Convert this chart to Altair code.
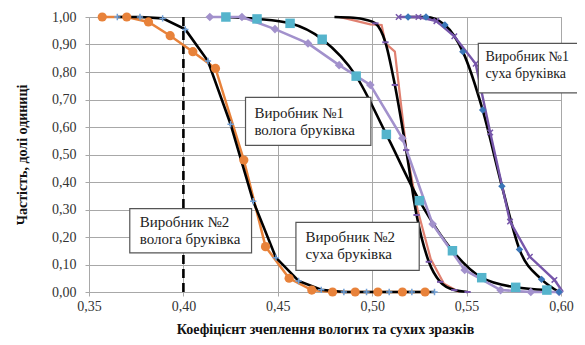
import altair as alt
import pandas as pd

# ---------------- data ----------------
# Виробник №2, волога бруківка: experiment (orange circles)
a_emp_x = [0.357, 0.370, 0.3815, 0.393, 0.405, 0.417, 0.432, 0.4435, 0.456, 0.468, 0.479, 0.491, 0.503, 0.516, 0.528]
a_emp_y = [1.00, 1.00, 0.982, 0.932, 0.874, 0.813, 0.48, 0.165, 0.05, 0.007, 0.0, 0.0, 0.0, 0.0, 0.0]
# its fitted curve (black, light-blue + markers)
a_fit_x = [0.365, 0.377, 0.389, 0.401, 0.413, 0.425, 0.437, 0.449, 0.461, 0.473, 0.485, 0.497, 0.509, 0.521, 0.533]
a_fit_y = [1.00, 1.00, 0.995, 0.955, 0.84, 0.61, 0.33, 0.125, 0.04, 0.008, 0.0, 0.0, 0.0, 0.0, 0.0]

# Виробник №1, волога бруківка: experiment (lavender diamonds)
b_emp_x = [0.414, 0.431, 0.4485, 0.466, 0.4825, 0.499, 0.516, 0.532, 0.549, 0.568, 0.584, 0.599]
b_emp_y = [1.00, 1.00, 0.956, 0.904, 0.825, 0.753, 0.559, 0.247, 0.08, 0.007, 0.0, 0.0]
# fitted curve (black, cyan squares)
b_fit_x = [0.4225, 0.439, 0.4565, 0.4735, 0.4915, 0.5075, 0.525, 0.5425, 0.558, 0.576, 0.5925]
b_fit_y = [1.00, 0.993, 0.977, 0.919, 0.785, 0.573, 0.332, 0.150, 0.052, 0.017, 0.007]

# Виробник №2, суха бруківка: experiment (salmon line)
c_emp_x = [0.4825, 0.487, 0.499, 0.505, 0.507, 0.512, 0.518, 0.524, 0.531, 0.538, 0.546]
c_emp_y = [1.00, 0.993, 0.973, 0.971, 0.904, 0.874, 0.52, 0.30, 0.12, 0.03, 0.0]
# fitted curve (black, purple dash markers)
c_fit_x = [0.480, 0.490, 0.4965, 0.5017, 0.507, 0.512, 0.518, 0.5235, 0.530, 0.536, 0.5435, 0.5505]
c_fit_y = [1.00, 0.997, 0.99, 0.977, 0.908, 0.753, 0.516, 0.28, 0.11, 0.037, 0.007, 0.0]

# Виробник №1, суха бруківка: experiment (purple line, x markers)
d_emp_x = [0.514, 0.5245, 0.534, 0.5435, 0.5548, 0.5625, 0.573, 0.5835, 0.5965, 0.601]
d_emp_y = [1.00, 1.00, 0.985, 0.93, 0.83, 0.58, 0.256, 0.128, 0.044, 0.0]
# fitted curve (black, steel-blue diamonds)
d_fit_x = [0.519, 0.5285, 0.5385, 0.548, 0.5585, 0.5687, 0.578, 0.5897, 0.599]
d_fit_y = [1.00, 1.00, 0.971, 0.874, 0.662, 0.385, 0.155, 0.046, 0.0]

vline_x = [0.40]

x_ticks = [0.35, 0.40, 0.45, 0.50, 0.55, 0.60]
y_ticks = [0.0, 0.1, 0.2, 0.3, 0.4, 0.5, 0.6, 0.7, 0.8, 0.9, 1.0]

box_line1 = ["Виробник №1", "Виробник №2", "Виробник №2", "Виробник №1"]
box_line2 = ["волога бруківка", "волога бруківка", "суха бруківка", "суха бруківка"]
box_x0 = [0.4329, 0.3716, 0.4596, 0.5562]
box_x1 = [0.4993, 0.4361, 0.5249, 0.6250]
box_y0 = [0.533, 0.142, 0.079, 0.724]
box_y1 = [0.708, 0.303, 0.253, 0.904]
text_x = [0.4376, 0.3769, 0.4647, 0.5600]
text_y1 = [0.652, 0.2545, 0.200, 0.8545]
text_y2 = [0.588, 0.194, 0.1396, 0.794]

# ---------------- chart ----------------
SERIF = "Liberation Serif"
GRID = "#a8a8a8"

def df(xs, ys):
    return pd.DataFrame({"x": xs, "y": ys})

xs = alt.Scale(domain=[0.35, 0.60], nice=False, zero=False)
ys = alt.Scale(domain=[0.0, 1.0], nice=False, zero=False)

x_enc = alt.X("x:Q", scale=xs, title="Коефіцієнт зчеплення вологих та сухих зразків",
              axis=alt.Axis(values=x_ticks, labelFlush=False,
                            labelExpr="replace(format(datum.value, '.2f'), '.', ',')"))
y_enc = alt.Y("y:Q", scale=ys, title="Частість, долі одиниці",
              axis=alt.Axis(values=y_ticks, labelFlush=False,
                            labelExpr="replace(format(datum.value, '.2f'), '.', ',')"))


def line(xv, yv, color, width=2.5, interp="linear"):
    return alt.Chart(df(xv, yv)).mark_line(color=color, strokeWidth=width,
                                           interpolate=interp).encode(x=x_enc, y=y_enc)


def pts(xv, yv, color, shape, size, filled=True, sw=1.5):
    if filled:
        m = alt.Chart(df(xv, yv)).mark_point(shape=shape, filled=True, color=color,
                                             size=size, opacity=1, strokeWidth=0)
    else:
        m = alt.Chart(df(xv, yv)).mark_point(shape=shape, filled=False, color=color,
                                             size=size, opacity=1, strokeWidth=sw)
    return m.encode(x=x_enc, y=y_enc)


def texts(xv, yv, tv, fs):
    return alt.Chart(pd.DataFrame({"x": xv, "y": yv, "t": tv})).mark_text(
        align="left", baseline="middle", font=SERIF, fontSize=fs, color="#222222").encode(
        x=x_enc, y=y_enc, text="t:N")


PLUS = "M-1,0L1,0M0,-1L0,1"
CROSS = "M-1,-1L1,1M-1,1L1,-1"
DASH = "M-1,0L1,0"

ORANGE = "#e8823a"
LBLUE = "#6f9fd6"
LAV = "#a291cc"
CYAN = "#55b4cc"
SALMON = "#e08070"
PURPLE = "#7656aa"
STEEL = "#3a76b8"

vline = alt.Chart(pd.DataFrame({"x": vline_x})).mark_rule(
    color="black", strokeWidth=2.6, strokeDash=[9, 5]).encode(x=x_enc)

boxes_df = pd.DataFrame({"x": box_x0, "x2": box_x1, "y": box_y0, "y2": box_y1})
boxes = alt.Chart(boxes_df).mark_rect(fill="white", stroke="#555555", strokeWidth=1.2).encode(
    x=x_enc, x2="x2:Q", y=y_enc, y2="y2:Q")

layers = [
    vline,
    line(a_emp_x, a_emp_y, ORANGE),
    line(c_emp_x, c_emp_y, SALMON, 2.2),
    line(a_fit_x, a_fit_y, "black", 2.6),
    line(b_fit_x, b_fit_y, "black", 2.6, "monotone"),
    line(c_fit_x, c_fit_y, "black", 2.6, "monotone"),
    line(d_fit_x, d_fit_y, "black", 2.6, "monotone"),
    line(b_emp_x, b_emp_y, LAV, 2.6),
    line(d_emp_x, d_emp_y, PURPLE, 2.4),
    pts(a_fit_x, a_fit_y, LBLUE, PLUS, 40, filled=False),
    pts(c_fit_x[3:], c_fit_y[3:], PURPLE, DASH, 40, filled=False, sw=2),
    pts(d_emp_x[:-1], d_emp_y[:-1], PURPLE, CROSS, 30, filled=False, sw=1.5),
    pts(a_emp_x, a_emp_y, ORANGE, "circle", 85),
    pts(b_emp_x, b_emp_y, LAV, "diamond", 75),
    pts(b_fit_x, b_fit_y, CYAN, "square", 90),
    pts(d_fit_x, d_fit_y, STEEL, "diamond", 55),
    boxes,
    texts(text_x[:3], text_y1[:3], box_line1[:3], 15),
    texts(text_x[:3], text_y2[:3], box_line2[:3], 15),
    texts(text_x[3:], text_y1[3:], box_line1[3:], 14),
    texts(text_x[3:], text_y2[3:], box_line2[3:], 14),
]

chart = alt.layer(*layers).properties(
    width=472, height=275,
    autosize=alt.AutoSizeParams(type="none"),
    padding={"left": 81, "top": 9, "right": 16, "bottom": 45},
    background="white",
).configure_axis(
    grid=True, gridColor=GRID, gridWidth=1,
    domainColor=GRID, tickColor=GRID, tickSize=4,
    labelFont=SERIF, labelFontSize=14, labelColor="#333333",
    titleFont=SERIF, titleFontSize=14, titleFontWeight="bold", titleColor="#111111",
).configure_axisX(labelPadding=3, titlePadding=9).configure_axisY(
    labelPadding=9, titlePadding=22
).configure_view(stroke=GRID, strokeWidth=1)

chart.save("out.html", embed_options={"renderer": "svg", "actions": False})
